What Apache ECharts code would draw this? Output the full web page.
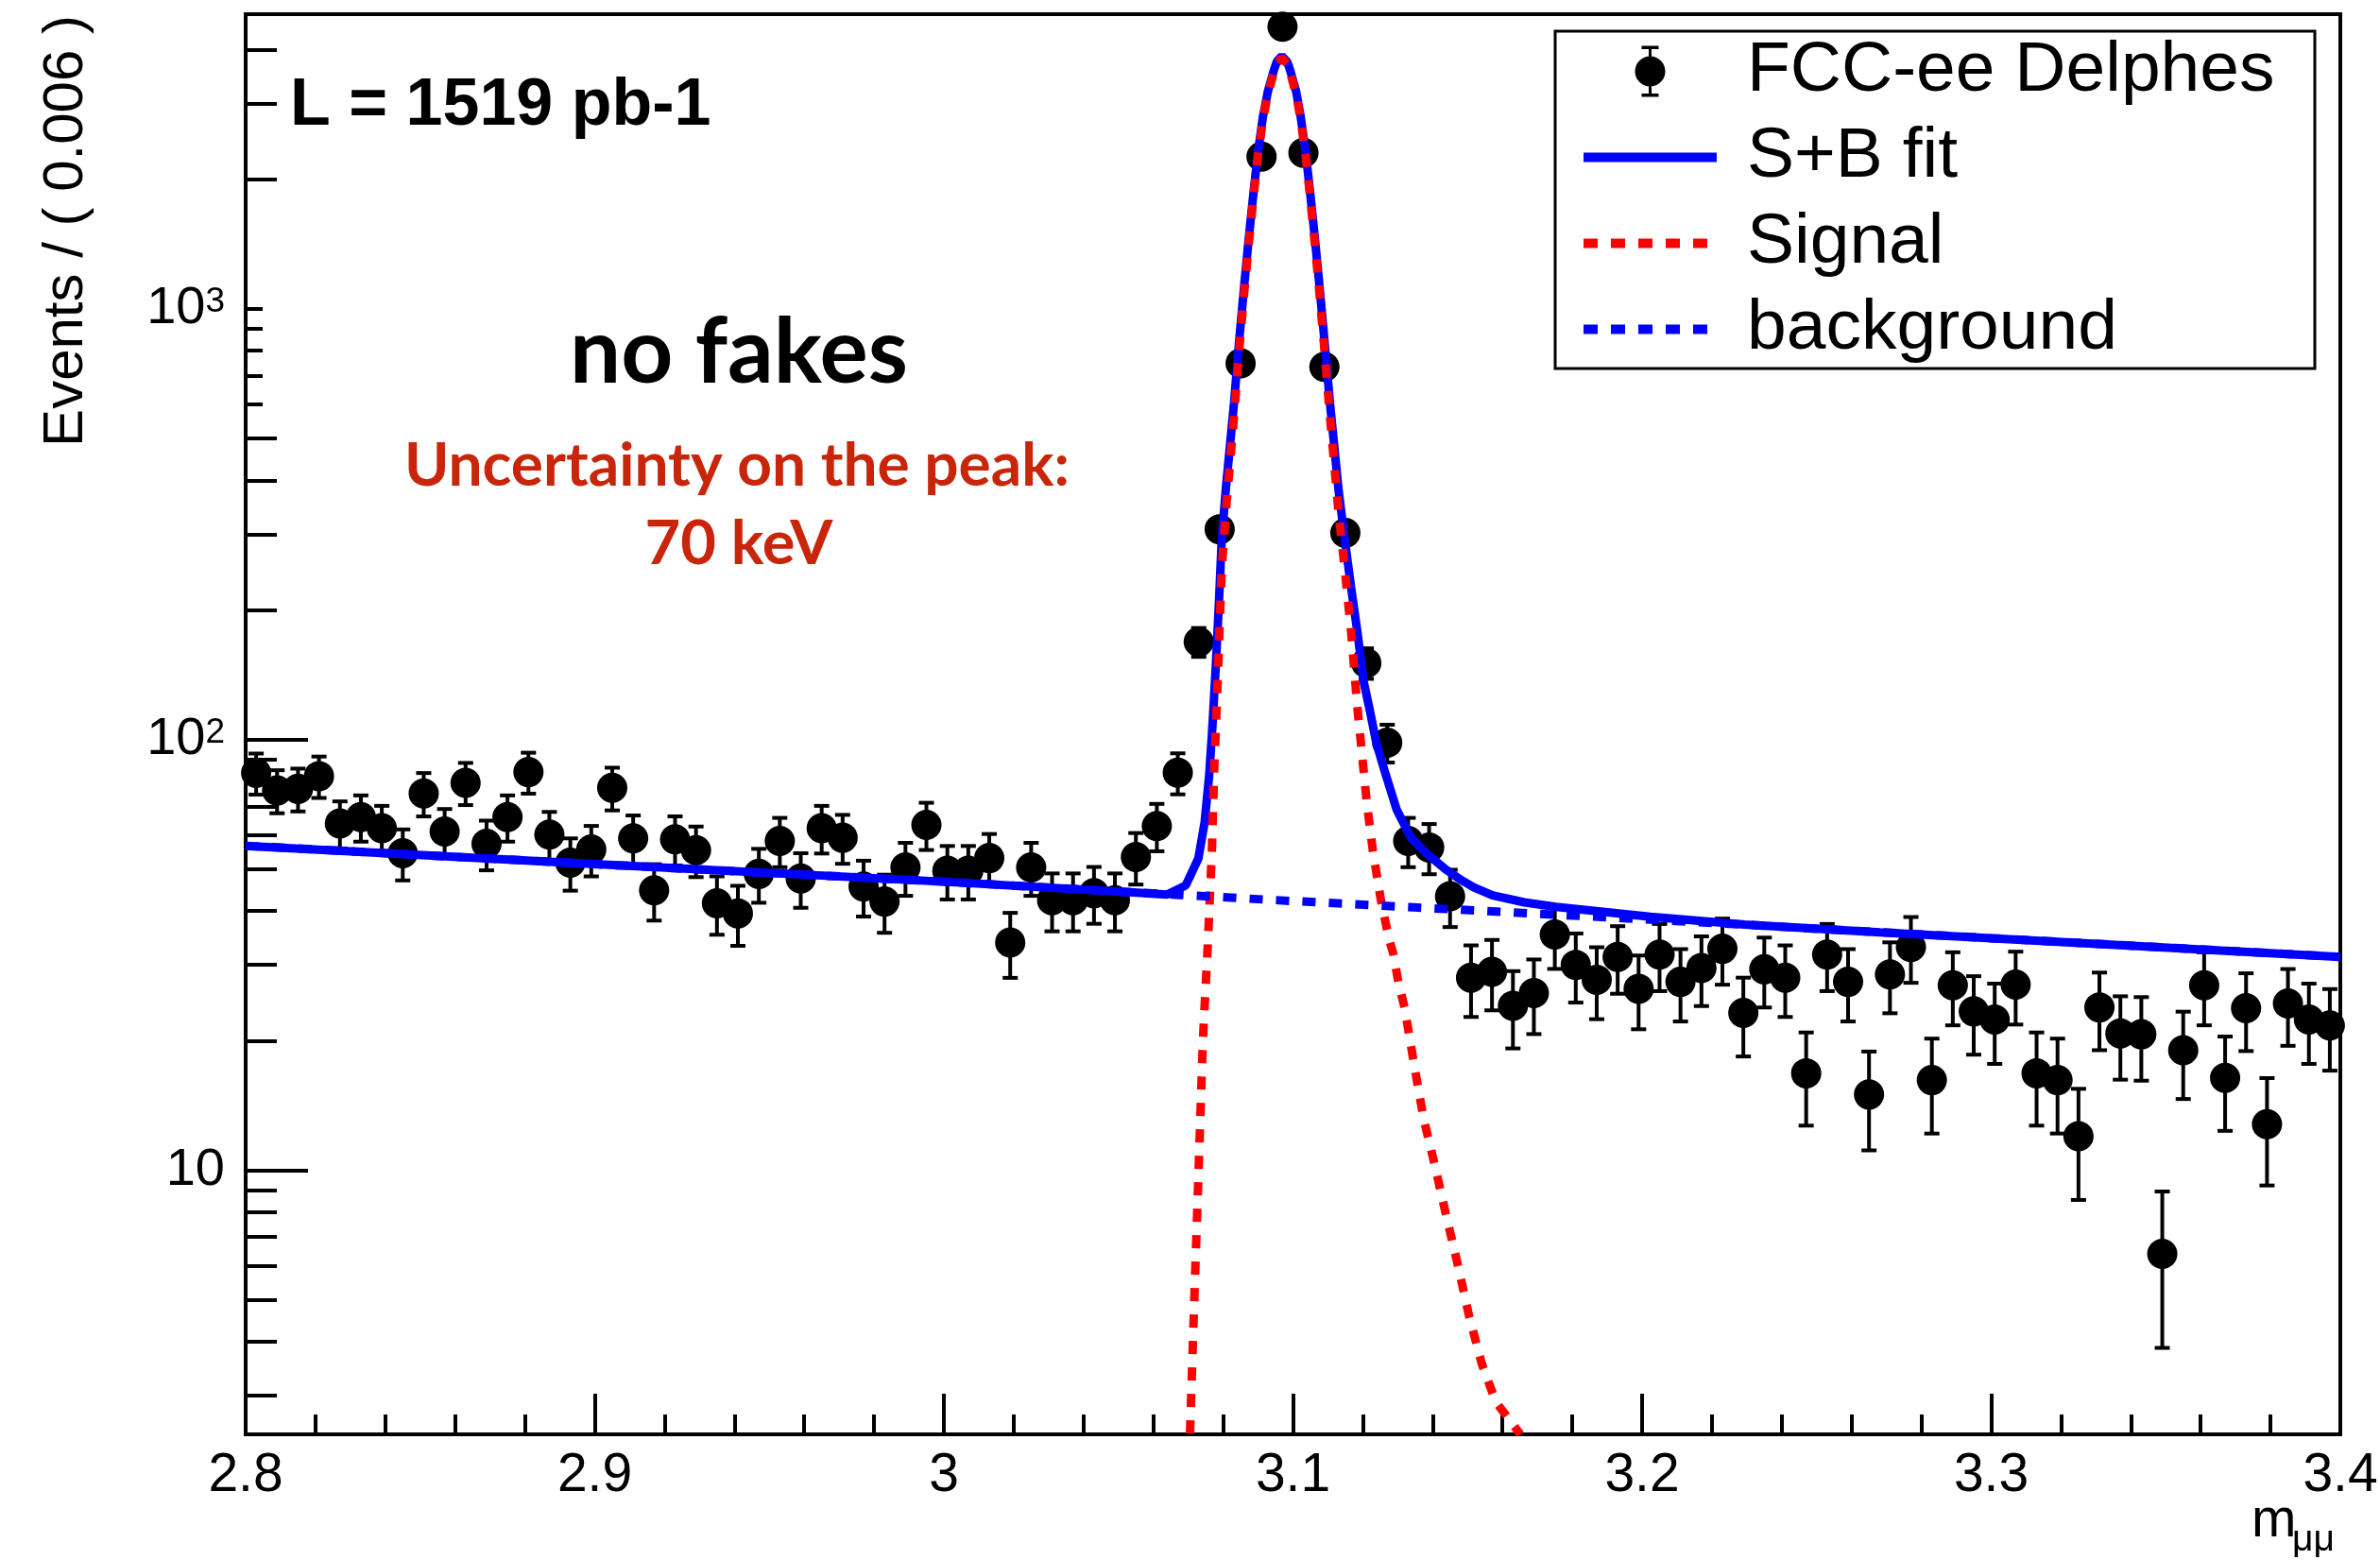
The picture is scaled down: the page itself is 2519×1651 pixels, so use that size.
<!DOCTYPE html>
<html>
<head>
<meta charset="utf-8">
<script src="https://cdn.jsdelivr.net/npm/echarts@6.0.0/dist/echarts.min.js"></script>
<style>
html,body{margin:0;padding:0;background:#fff;}
#chart{width:2519px;height:1651px;}
</style>
</head>
<body>
<div id="chart"></div>
<script>
// ---------------- data ----------------
const BIN_START = 2.8;
const BIN_WIDTH = 0.006;

// events per 0.006 bin, 100 bins from 2.8 to 3.4
const counts = [
  83.7, 76.2, 76.9, 82.3, 63.9, 66.1, 62.3, 54.5, 75.0, 61.2,
  79.4, 57.3, 66.1, 84.1, 60.2, 51.8, 55.6, 77.3, 59.0, 44.7,
  58.7, 55.4, 41.7, 39.5, 48.8, 58.2, 47.6, 62.3, 59.2, 45.6,
  42.1, 50.5, 63.4, 49.6, 49.6, 53.1, 33.8, 50.5, 42.4, 42.4,
  44.0, 42.4, 53.4, 63.0, 83.8, 168.7, 308, 748, 2259, 4523,
  2305, 734, 302, 150.7, 98.4, 58.2, 56.2, 43.3, 28.0, 28.9,
  24.1, 25.8, 35.3, 30.0, 27.7, 31.3, 26.4, 31.7, 27.4, 29.5,
  32.7, 23.2, 29.3, 28.0, 16.8, 31.7, 27.4, 15.0, 28.5, 33.0,
  16.2, 26.9, 23.4, 22.4, 27.0, 16.8, 16.2, 12.0, 23.9, 20.8,
  20.7, 6.4, 19.0, 26.9, 16.4, 23.8, 12.8, 24.4, 22.4, 21.7
];

// S+B fit curve
const sbX = [2.8, 2.9, 3.0, 3.0544, 3.0639, 3.0693, 3.0729, 3.0747, 3.0760, 3.0769,
  3.0779, 3.0788, 3.0796, 3.0808, 3.0831, 3.0846, 3.0860, 3.0873, 3.0887, 3.0900,
  3.0914, 3.0928, 3.0946, 3.0954, 3.0968, 3.0983, 3.0991, 3.1009, 3.1022, 3.1036,
  3.1049, 3.1063, 3.1076, 3.1090, 3.1106, 3.1131, 3.1148, 3.1166, 3.1185, 3.1202,
  3.1221, 3.1239, 3.1266, 3.1297, 3.1338, 3.1383, 3.1437, 3.1482, 3.1518, 3.1572,
  3.1663, 3.1753, 3.2024, 3.2294, 3.2682, 3.3, 3.4];
const sbY = [56.7, 51.4, 46.8, 44.2, 43.7, 45.9, 53.0, 64.4, 82.8, 106.6,
  149, 209, 293, 385, 604, 847, 1128, 1452, 1867, 2325,
  2799, 3200, 3603, 3757, 3868, 3757, 3603, 3200, 2799, 2325,
  1867, 1452, 1128, 847, 604, 377, 293, 227, 176.7, 137,
  116, 98, 82.8, 68.8, 59.2, 54.4, 50.0, 47.2, 45.4, 43.5,
  41.9, 40.9, 38.8, 37.2, 35.7, 34.6, 31.3];

// Signal curve
const sigX = [3.0705, 3.0715, 3.0724, 3.0733, 3.0742, 3.0756, 3.0768, 3.0774, 3.0783, 3.0788,
  3.0796, 3.0808, 3.0831, 3.0846, 3.0860, 3.0873, 3.0887, 3.0900, 3.0914, 3.0928,
  3.0946, 3.0954, 3.0968, 3.0983, 3.0991, 3.1009, 3.1022, 3.1036, 3.1049, 3.1063,
  3.1076, 3.1090, 3.1106, 3.1131, 3.1148, 3.1166, 3.1184, 3.1198, 3.1211, 3.1229,
  3.1252, 3.1275, 3.1288, 3.1302, 3.1320, 3.1347, 3.1374, 3.1406, 3.1437, 3.1469,
  3.1505, 3.1541, 3.1581, 3.1651];
const sigY = [2.45, 4.4, 7.3, 12.1, 20.1, 33.4, 56, 84, 128, 166,
  250, 342, 561, 804, 1085, 1410, 1825, 2280, 2755, 3157,
  3560, 3715, 3825, 3715, 3560, 3157, 2755, 2280, 1825, 1410,
  1085, 805, 562, 334, 250, 180, 120, 92, 72, 55,
  42.3, 34.5, 31.7, 27.3, 23.8, 17.6, 13.2, 10.3, 7.97, 6.19,
  4.57, 3.55, 2.9, 2.44];

// background curve
const bkgX = [2.8, 2.9, 3.0, 3.0676, 3.1, 3.1347, 3.2, 3.3, 3.4];
const bkgY = [56.7, 51.4, 46.8, 43.6, 42.2, 40.8, 38.3, 34.6, 31.3];

// axes
const xTickLabels = ['2.8', '2.9', '3', '3.1', '3.2', '3.3', '3.4'];
const yLabelValues = [10, 100, 1000];
const yLongTickValues = [10, 100];
const yMidTickValues = [3, 4, 5, 6, 7, 8, 9, 20, 30, 40, 50, 60, 70, 80, 90,
  200, 300, 400, 500, 2000, 3000, 4000];
const yShortTickValues = [600, 700, 800, 900, 1000];
const Y_MIN = 2.438, Y_MAX = 4837;

const legendNames = ['FCC-ee Delphes', 'S+B fit', 'Signal', 'background'];

// ---------------- build ----------------
const points = counts.map((c, i) => [+(BIN_START + BIN_WIDTH * (i + 0.5)).toFixed(4), c]);
const zip = (xs, ys) => xs.map((x, i) => [x, ys[i]]);

const FONT = '"Liberation Sans", Arial, Helvetica, sans-serif';
const FONT2 = 'Lato, "Open Sans", sans-serif';
const ICON_DATA = 'path://M14.5,0H17.5V12H14.5Z M14.5,42H17.5V54H14.5Z M7,0H25V3.5H7Z M7,50.5H25V54H7Z M0,27A16,16,0,1,1,32,27A16,16,0,1,1,0,27Z';
const ICON_SOLID = 'path://M0,0H141V10H0Z';
const ICON_DASH = 'path://M0,0H15V10H0Z M29,0H44V10H29Z M58,0H73V10H58Z M87,0H102V10H87Z M116,0H131V10H116Z M141,0L141,10';

const yAxisBase = {
  type: 'log', logBase: 10, min: Y_MIN, max: Y_MAX, position: 'left',
  splitLine: { show: false }, minorTick: { show: false }, minorSplitLine: { show: false }
};

const chart = echarts.init(document.getElementById('chart'), null, { renderer: 'canvas' });
chart.setOption({
  animation: false,
  backgroundColor: '#fff',
  grid: {
    left: 260, right: 42, top: 15, bottom: 133,
    containLabel: false, outerBoundsMode: 'none',
    show: true, borderColor: '#000', borderWidth: 4, backgroundColor: 'transparent'
  },
  xAxis: {
    type: 'value', min: 2.8, max: 3.4, interval: 0.1, position: 'bottom',
    axisLine: { show: true, lineStyle: { color: '#000', width: 4 } },
    axisTick: { show: true, inside: true, length: 43, lineStyle: { color: '#000', width: 4 } },
    minorTick: { show: true, splitNumber: 5, length: 21, lineStyle: { color: '#000', width: 4 } },
    splitLine: { show: false },
    axisLabel: {
      color: '#000', fontFamily: FONT, fontSize: 57, margin: 16,
      formatter: v => xTickLabels[Math.round((v - 2.8) / 0.1)]
    }
  },
  yAxis: [
    Object.assign({}, yAxisBase, {
      axisLine: { show: true, lineStyle: { color: '#000', width: 4 } },
      axisTick: { show: true, inside: true, length: 66, lineStyle: { color: '#000', width: 4 }, customValues: yLongTickValues },
      axisLabel: {
        show: true, customValues: yLabelValues, margin: 22, color: '#000',
        fontFamily: FONT, fontSize: 56,
        formatter: v => {
          const e = Math.round(Math.log10(v));
          return e === 1 ? '{b|10}' : '{b|10}{s|' + e + '}';
        },
        rich: {
          b: { fontFamily: FONT, fontSize: 56, lineHeight: 56, color: '#000', verticalAlign: 'bottom', padding: [6, 0, 0, 0] },
          s: { fontFamily: FONT, fontSize: 37, lineHeight: 37, color: '#000', verticalAlign: 'top', padding: [2, 0, 0, 0] }
        }
      }
    }),
    Object.assign({}, yAxisBase, {
      axisLine: { show: false },
      axisTick: { show: true, inside: true, length: 33, lineStyle: { color: '#000', width: 4 }, customValues: yMidTickValues },
      axisLabel: { show: false }
    }),
    Object.assign({}, yAxisBase, {
      axisLine: { show: false },
      axisTick: { show: true, inside: true, length: 18, lineStyle: { color: '#000', width: 4 }, customValues: yShortTickValues },
      axisLabel: { show: false }
    })
  ],
  legend: {
    orient: 'vertical', left: 1676, top: 38, padding: 0, itemGap: 16,
    itemWidth: 141, itemHeight: 54, selectedMode: false, z: 10,
    itemStyle: { borderWidth: 0, opacity: 1 },
    textStyle: { fontFamily: FONT, fontSize: 75, color: '#000', lineHeight: 72, padding: [0, 0, 0, 27] },
    data: [
      { name: legendNames[0], icon: ICON_DATA },
      { name: legendNames[1], icon: ICON_SOLID },
      { name: legendNames[2], icon: ICON_DASH },
      { name: legendNames[3], icon: ICON_DASH }
    ]
  },
  graphic: [
    { type: 'rect', z: 9, shape: { x: 1646, y: 33, width: 804, height: 357 },
      style: { fill: '#fff', stroke: '#000', lineWidth: 3 } },
    { type: 'text', x: 307, y: 113, z: 10,
      style: { text: 'L = 1519 pb-1', fontFamily: FONT, fontWeight: 'bold', fontSize: 70, fill: '#000',
        textAlign: 'left', textVerticalAlign: 'middle', align: 'left', verticalAlign: 'middle' } },
    { type: 'text', x: 782, y: 374, z: 10,
      style: { text: 'no fakes', fontFamily: FONT2, fontWeight: 'bold', fontSize: 96, fill: '#000',
        textAlign: 'center', textVerticalAlign: 'middle', align: 'center', verticalAlign: 'middle' } },
    { type: 'text', x: 780, y: 493, z: 10,
      style: { text: 'Uncertainty on the peak:', fontFamily: FONT2, fontWeight: 'bold', fontSize: 64, fill: '#C8250A',
        textAlign: 'center', textVerticalAlign: 'middle', align: 'center', verticalAlign: 'middle' } },
    { type: 'text', x: 782, y: 576, z: 10,
      style: { text: '70 keV', fontFamily: FONT2, fontWeight: 'bold', fontSize: 65, fill: '#C8250A',
        textAlign: 'center', textVerticalAlign: 'middle', align: 'center', verticalAlign: 'middle' } },
    { type: 'text', x: 70, y: 16, rotation: Math.PI / 2, z: 10,
      style: { text: 'Events / ( 0.006 )', fontFamily: FONT, fontSize: 60, fill: '#000',
        textAlign: 'right', textVerticalAlign: 'middle', align: 'right', verticalAlign: 'middle' } },
    { type: 'text', x: 2383, y: 1610, z: 10,
      style: { text: 'm', fontFamily: FONT, fontSize: 57, fill: '#000',
        textAlign: 'left', textVerticalAlign: 'middle', align: 'left', verticalAlign: 'middle' } },
    { type: 'text', x: 2426, y: 1630, z: 10,
      style: { text: 'μμ', fontFamily: FONT, fontSize: 39, fill: '#000',
        textAlign: 'left', textVerticalAlign: 'middle', align: 'left', verticalAlign: 'middle' } }
  ],
  series: [
    {
      type: 'custom', name: 'data errors', z: 2, silent: true, clip: false,
      encode: { x: 0, y: 1 },
      data: points,
      renderItem: function (params, api) {
        const x = api.value(0), y = api.value(1);
        const err = Math.sqrt(y); // Poisson error bars
        const c = api.coord([x, y]);
        const hi = api.coord([x, y + err]);
        const lo = api.coord([x, Math.max(y - err, 1e-3)]);
        const w = 8;
        const st = { stroke: '#000', lineWidth: 4 };
        return {
          type: 'group',
          children: [
            { type: 'line', shape: { x1: c[0], y1: hi[1], x2: c[0], y2: lo[1] }, style: st },
            { type: 'line', shape: { x1: c[0] - w, y1: hi[1], x2: c[0] + w, y2: hi[1] }, style: st },
            { type: 'line', shape: { x1: c[0] - w, y1: lo[1], x2: c[0] + w, y2: lo[1] }, style: st }
          ]
        };
      }
    },
    {
      type: 'scatter', name: legendNames[0], data: points, symbol: 'circle', symbolSize: 32,
      itemStyle: { color: '#000', opacity: 1 }, z: 3, clip: false, silent: true
    },
    {
      type: 'line', name: legendNames[1], data: zip(sbX, sbY), symbol: 'none', showSymbol: false,
      color: '#0000ff', lineStyle: { color: '#0000ff', width: 9, opacity: 1 }, z: 4, silent: true, clip: true
    },
    {
      type: 'line', name: legendNames[2], data: zip(sigX, sigY), symbol: 'none', showSymbol: false,
      color: '#ff0000', lineStyle: { color: '#ff0000', width: 9, type: [14, 14], cap: 'butt', opacity: 1 }, z: 5, silent: true, clip: true
    },
    {
      type: 'line', name: legendNames[3], data: zip(bkgX, bkgY), symbol: 'none', showSymbol: false,
      color: '#0000ff', lineStyle: { color: '#0000ff', width: 9, type: [14, 14], cap: 'butt', opacity: 1 }, z: 6, silent: true, clip: true
    }
  ]
});
</script>
</body>
</html>
